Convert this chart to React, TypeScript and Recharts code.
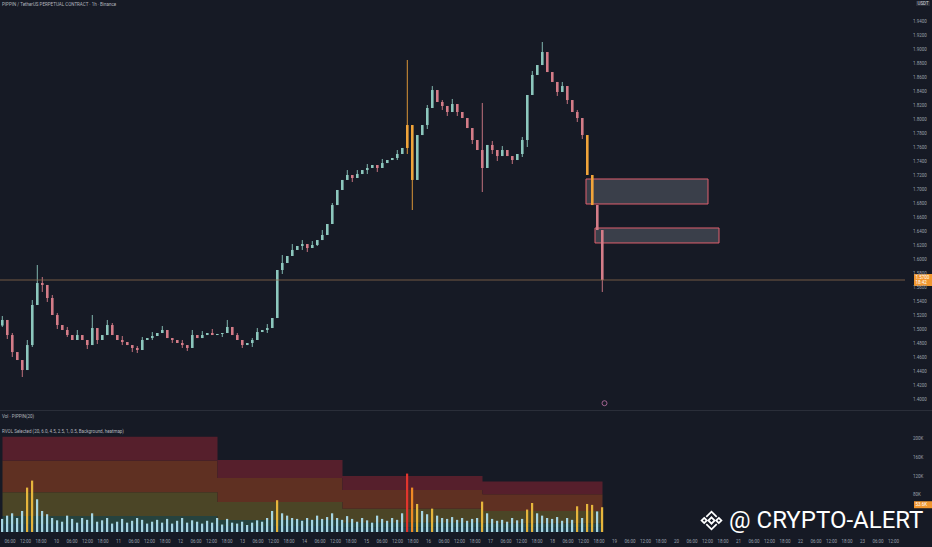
import {
  Area,
  Bar,
  Cell,
  ComposedChart,
  ReferenceArea,
  ReferenceDot,
  ReferenceLine,
  XAxis,
  YAxis,
} from "recharts";

// closes per candle (USDT)
const closes = [
  1.5129, 1.4914, 1.4671, 1.4557, 1.4414, 1.4771, 1.5343, 1.5657, 1.5629, 1.5443,
  1.52, 1.5057, 1.4986, 1.4914, 1.4843, 1.4914, 1.4843, 1.4771, 1.5014, 1.4843,
  1.4914, 1.5057, 1.4914, 1.4843, 1.4814, 1.4771, 1.4729, 1.47, 1.4843, 1.4871,
  1.49, 1.4943, 1.4986, 1.4871, 1.4843, 1.48, 1.4771, 1.4729, 1.4914, 1.4871,
  1.4914, 1.4943, 1.4914, 1.4929, 1.4943, 1.5029, 1.4914, 1.4843, 1.4771, 1.48,
  1.4843, 1.4957, 1.4986, 1.5014, 1.5157, 1.5843, 1.5943, 1.6043, 1.6129, 1.6186,
  1.6214, 1.6157, 1.62, 1.6271, 1.6343, 1.65, 1.6771, 1.6986, 1.7129, 1.72,
  1.7157, 1.7214, 1.7271, 1.73, 1.7343, 1.73, 1.7371, 1.7414, 1.7443, 1.75,
  1.7586, 1.7914, 1.7129, 1.7771, 1.7914, 1.8157, 1.8414, 1.8243, 1.8186, 1.81,
  1.8214, 1.81, 1.8014, 1.7871, 1.77, 1.7557, 1.73, 1.7629, 1.7557, 1.7471,
  1.7557, 1.7471, 1.7414, 1.75, 1.77, 1.8343, 1.8629, 1.8771, 1.8957, 1.8671,
  1.8529, 1.8386, 1.8471, 1.8271, 1.81, 1.8014, 1.7771, 1.72, 1.6771, 1.6414,
  1.57,
];
const firstOpen = 1.505;

// [candle, high, low] for the visible wicks
const wicks: [number, number | null, number | null][] = [
  [0, 1.5186, 1.5029], [1, null, 1.4857], [2, 1.4943, 1.46], [4, null, 1.4314],
  [5, 1.4843, null], [6, 1.5414, 1.4743], [7, 1.5914, null], [8, 1.5743, 1.5529],
  [9, null, 1.5386], [10, 1.5486, null], [11, 1.5229, 1.5], [13, 1.5029, 1.4886],
  [15, 1.4986, null], [17, null, 1.4714], [18, 1.52, null], [19, null, 1.4786],
  [21, 1.5129, null], [22, 1.5086, null], [24, 1.49, 1.4771], [26, null, 1.4671],
  [27, 1.4757, 1.4657], [28, 1.4886, null], [30, 1.4957, 1.4843], [32, 1.5043, null],
  [34, null, 1.48], [36, 1.4843, 1.4729], [37, null, 1.4686], [38, 1.4986, null],
  [40, 1.4971, null], [42, 1.5, null], [44, null, 1.4886], [45, 1.5129, null],
  [47, 1.4943, null], [48, null, 1.4729], [50, 1.4871, 1.4743], [51, 1.5014, null],
  [53, 1.5071, 1.4943], [56, 1.6057, 1.5786], [58, 1.6214, null], [60, 1.6271, 1.6129],
  [61, null, 1.61], [62, 1.6257, null], [63, null, 1.6186], [64, 1.6414, null],
  [66, 1.68, null], [69, 1.7271, null], [70, null, 1.71], [71, 1.7271, null],
  [73, 1.7357, 1.7214], [75, null, 1.7243], [76, 1.7429, null], [79, 1.7557, 1.7414],
  [81, 1.8843, 1.75], [82, null, 1.67], [85, 1.82, 1.7857], [86, 1.8471, null],
  [87, 1.8343, null], [88, 1.8271, 1.8129], [89, null, 1.8043], [90, 1.8286, null],
  [91, null, 1.8043], [93, 1.7957, null], [94, null, 1.7643], [96, 1.8229, 1.6957],
  [98, 1.7686, 1.75], [99, null, 1.74], [100, 1.7614, null], [102, null, 1.7357],
  [104, 1.7743, 1.7457], [105, null, 1.76], [106, 1.8686, null], [108, 1.91, null],
  [109, 1.8943, null], [111, null, 1.8329], [112, 1.8529, null], [113, null, 1.8214],
  [115, 1.8129, 1.7957], [116, null, 1.7714], [120, null, 1.5529],
];
const hotCandles = [81, 82, 117, 118];

// volume in K
const volumes = [
  28, 35, 40, 30, 45, 95, 110, 70, 45, 38,
  30, 25, 22, 35, 28, 20, 30, 26, 40, 22,
  25, 30, 18, 22, 28, 20, 24, 30, 26, 18,
  22, 26, 20, 28, 18, 24, 30, 20, 25, 22,
  18, 24, 20, 30, 16, 28, 20, 18, 22, 15,
  20, 25, 22, 30, 45, 68, 40, 35, 30, 28,
  24, 30, 26, 35, 28, 32, 40, 30, 26, 34,
  28, 22, 30, 25, 20, 35, 28, 24, 30, 26,
  40, 125, 95, 60, 45, 38, 50, 35, 30, 28,
  32, 26, 30, 24, 28, 30, 65, 40, 28, 24,
  26, 22, 30, 25, 28, 48, 62, 40, 35, 30,
  28, 32, 24, 30, 26, 55, 30, 60, 58, 44,
  53,
];
// RVOL average (K) stepping at these candles
const avgSteps: [number, number][] = [
  [0, 34],
  [43, 25.7],
  [68, 20],
  [96, 18],
];
const rvolLevels = [0.5, 1, 2.5, 4.5, 6];
const bandColors = ["#1f3c48", "#26433f", "#4b4526", "#5f3022", "#561f2c"];

const priceTicks = [
  1.4, 1.42, 1.44, 1.46, 1.48, 1.5, 1.52, 1.54, 1.56, 1.58, 1.6, 1.62, 1.64, 1.66,
  1.68, 1.7, 1.72, 1.74, 1.76, 1.78, 1.8, 1.82, 1.84, 1.86, 1.88, 1.9, 1.92, 1.94,
];
const volTicks = [80, 120, 160, 200];
const days = ["10", "11", "12", "13", "14", "15", "16", "17", "18", "19", "20", "21", "22", "23", "24"];
const timeLabels = ["06:00", "12:00", "18:00", ...days.flatMap((d) => [d, "06:00", "12:00", "18:00"])];

const lastPrice = 1.57;
const lastVol = 53;

const BG = "#161a25";
const TXT = "#9aa0ab";
const FONT = "Roboto, sans-serif";

const candles = closes.map((c, i) => {
  const o = i === 0 ? firstOpen : closes[i - 1];
  const w = wicks.find((x) => x[0] === i);
  const high = Math.max(o, c, w && w[1] != null ? w[1] : 0);
  const low = Math.min(o, c, w && w[2] != null ? w[2] : 99);
  return { i, o, c, range: [low, high], hot: hotCandles.includes(i) };
});

const avgAt = (i: number) => {
  let a = avgSteps[0][1];
  for (const [from, v] of avgSteps) if (i >= from) a = v;
  return a;
};

const volRows = volumes.map((v, i) => {
  const avg = avgAt(i);
  const row: Record<string, number | string> = { i, vol: v };
  rvolLevels.forEach((lv, k) => {
    row[`b${k}`] = (lv - (k === 0 ? 0 : rvolLevels[k - 1])) * avg;
  });
  const r = v / avg;
  row.color = r >= 6 ? "#e2352d" : r >= 4.5 ? "#f08a24" : r >= 2.5 ? "#e6b53c" : "#a6d5e2";
  return row;
});

const timeTicks = timeLabels.map((_, k) => 1.5 + k * 3.1).filter((t) => t < 180);

function Candle(props: any) {
  const { x, y, width, height, payload } = props;
  const [low, high] = payload.range;
  const top0 = Math.min(y, y + height);
  const h = Math.abs(height);
  const span = high - low || 1e-9;
  const py = (p: number) => top0 + ((high - p) / span) * h;
  const bt = py(Math.max(payload.o, payload.c));
  const bb = py(Math.min(payload.o, payload.c));
  const color = payload.hot ? "#f0a43a" : payload.c >= payload.o ? "#8cc7bd" : "#d47c88";
  const cx = x + width / 2;
  return (
    <g>
      <line x1={cx} x2={cx} y1={top0} y2={top0 + h} stroke={color} strokeWidth={0.9} />
      <rect x={x} y={bt} width={width} height={Math.max(1, bb - bt)} fill={color} />
    </g>
  );
}

function AxisBadge({ viewBox, text, sub }: any) {
  const x = viewBox.x + viewBox.width + 9;
  const y = viewBox.y;
  return (
    <g>
      <rect x={x} y={y - 6} width={18} height={sub ? 12 : 7} fill="#f0962e" />
      <text x={x + 1.5} y={y - 1} fontSize={4.5} fill="#fff" fontFamily={FONT}>
        {text}
      </text>
      {sub && (
        <text x={x + 1.5} y={y + 4} fontSize={4.5} fill="#fff" fontFamily={FONT}>
          {sub}
        </text>
      )}
    </g>
  );
}

function BinanceLogo() {
  return (
    <svg width={25} height={25} viewBox="0 0 24 24" style={{ display: "block" }}>
      <g fill="none" stroke="#fff" strokeWidth={1.7} strokeLinejoin="miter">
        <polygon points="12,9 15,12 12,15 9,12" />
        <polygon points="5,9.5 7.5,12 5,14.5 2.5,12" />
        <polygon points="19,9.5 21.5,12 19,14.5 16.5,12" />
        <polyline points="7,8.5 12,3.5 17,8.5" />
        <polyline points="7,15.5 12,20.5 17,15.5" />
      </g>
    </svg>
  );
}

const small = { position: "absolute" as const, fontSize: 4.5, color: "#b2b5be", fontFamily: FONT, whiteSpace: "nowrap" as const };

export default function App() {
  return (
    <div style={{ position: "absolute", left: 0, top: 0, width: 932, height: 547, background: BG, overflow: "hidden" }}>
      <div style={{ ...small, left: 2, top: 2 }}>
        PIPPIN / TetherUS PERPETUAL CONTRACT · 1h · Binance
      </div>
      <div style={{ ...small, left: 916, top: 1, background: "#2a2e39", padding: "0 1.5px", color: "#d1d4dc" }}>USDT</div>

      <ComposedChart width={932} height={410} data={candles} margin={{ top: 0, right: 0, left: 0, bottom: 0 }}>
        <XAxis type="number" dataKey="i" domain={[-0.5, 180.5]} hide />
        <YAxis
          orientation="right"
          width={27}
          domain={[1.3843, 1.97]}
          allowDataOverflow
          ticks={priceTicks}
          interval={0}
          axisLine={false}
          tickLine={false}
          tick={{ fontSize: 4.5, fill: TXT, fontFamily: FONT }}
          tickFormatter={(v: number) => v.toFixed(4)}
        />
        <ReferenceLine
          y={lastPrice}
          stroke="#8a6a4c"
          strokeWidth={0.8}
          label={(p: any) => <AxisBadge viewBox={p.viewBox} text="1.5700" sub="18:42" />}
        />
        <Bar dataKey="range" barSize={2.6} shape={<Candle />} isAnimationActive={false} />
        <ReferenceArea x1={116.7} x2={141.1} y1={1.6786} y2={1.7143} fill="#5a5e6a" fillOpacity={0.55} stroke="#e0606e" strokeWidth={1} />
        <ReferenceArea x1={118.5} x2={143.3} y1={1.6229} y2={1.6443} fill="#5a5e6a" fillOpacity={0.55} stroke="#e0606e" strokeWidth={1} />
        <ReferenceDot x={120.4} y={1.394} r={2.5} fill="none" stroke="#c074a8" strokeWidth={0.8} />
      </ComposedChart>

      <div style={{ position: "absolute", left: 0, top: 409.5, width: 932, height: 1, background: "#2a2e39" }} />
      <div style={{ ...small, left: 2, top: 414 }}>Vol · PIPPIN(20)</div>
      <div style={{ ...small, left: 2, top: 429 }}>
        RVOL Selected (20, 6.0, 4.5, 2.5, 1, 0.5, Background, heatmap)
      </div>

      <div style={{ position: "absolute", left: 0, top: 410 }}>
        <ComposedChart width={932} height={137} data={volRows} margin={{ top: 0, right: 0, left: 0, bottom: 0 }}>
          <XAxis
            type="number"
            dataKey="i"
            domain={[-0.5, 180.5]}
            ticks={timeTicks}
            interval={0}
            height={15}
            axisLine={false}
            tickLine={false}
            tick={{ fontSize: 4.5, fill: TXT, fontFamily: FONT }}
            tickFormatter={(_: number, idx: number) => timeLabels[idx]}
          />
          <YAxis
            orientation="right"
            width={27}
            domain={[0, 261]}
            allowDataOverflow
            ticks={volTicks}
            interval={0}
            axisLine={false}
            tickLine={false}
            tick={{ fontSize: 4.5, fill: TXT, fontFamily: FONT }}
            tickFormatter={(v: number) => `${v}K`}
          />
          {rvolLevels.map((_, k) => (
            <Area
              key={k}
              dataKey={`b${k}`}
              stackId="bg"
              type="stepAfter"
              fill={bandColors[k]}
              fillOpacity={1}
              stroke="none"
              isAnimationActive={false}
            />
          ))}
          <ReferenceLine
            y={lastVol}
            stroke="none"
            label={(p: any) => <AxisBadge viewBox={p.viewBox} text="53.6K" />}
          />
          <Bar dataKey="vol" barSize={2.2} isAnimationActive={false}>
            {volRows.map((r) => (
              <Cell key={r.i as number} fill={r.color as string} />
            ))}
          </Bar>
        </ComposedChart>
      </div>

      <div
        style={{
          position: "absolute",
          left: 699,
          top: 506,
          display: "flex",
          alignItems: "center",
          gap: 5,
          whiteSpace: "nowrap",
        }}
      >
        <BinanceLogo />
        <span style={{ color: "#fff", fontSize: 24, fontFamily: "Roboto, sans-serif", lineHeight: "28px", whiteSpace: "nowrap" }}>
          @ CRYPTO-ALERT
        </span>
      </div>
    </div>
  );
}
